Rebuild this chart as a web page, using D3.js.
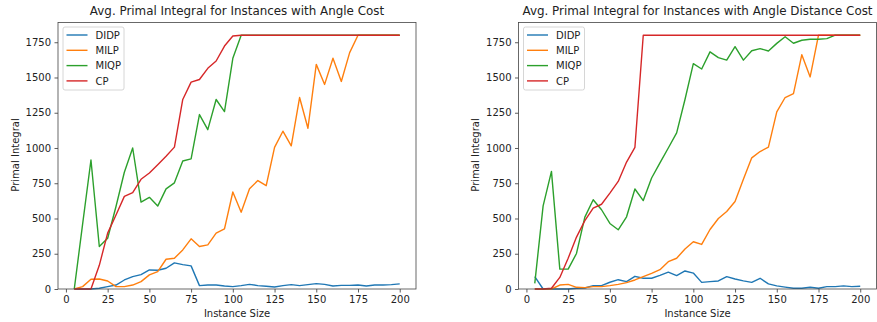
<!DOCTYPE html>
<html>
<head>
<meta charset="utf-8">
<script src="https://cdn.jsdelivr.net/npm/d3@7"></script>
<style>
  body { margin: 0; background: #fff; }
  svg { display: block; font-family: "DejaVu Sans", sans-serif; }
</style>
</head>
<body>
<div id="chart"></div>
<script>
// instance sizes 5..200
const sizes = [5,10,15,20,25,30,35,40,45,50,55,60,65,70,75,80,85,90,95,100,
  105,110,115,120,125,130,135,140,145,150,155,160,165,170,175,180,185,190,195,200];

const xTicks = [0,25,50,75,100,125,150,175,200];
const yTicks = [0,250,500,750,1000,1250,1500,1750];
const methods = ["DIDP", "MILP", "MIQP", "CP"];
const colors = ["#1f77b4", "#ff7f0e", "#2ca02c", "#d62728"];
const titles = ["Avg. Primal Integral for Instances with Angle Cost",
  "Avg. Primal Integral for Instances with Angle Distance Cost"];

// angle cost
const angleDIDP = [0,0,0,5,17,28,64,88,102,135,133,147,185,173,164,24,28,28,21,17,
  24,33,24,19,14,24,31,24,31,38,33,21,26,26,28,21,28,28,31,36];
const angleMILP = [0,17,69,71,57,17,17,28,52,100,123,211,218,277,356,301,313,396,427,688,
  545,711,769,733,1004,1119,1015,1358,1140,1593,1451,1637,1472,1676,1800,1800,1800,1800,1800,1800];
const angleMIQP = [0,460,915,301,360,585,828,1000,616,650,588,710,753,908,923,1237,1130,1344,1258,1636,
  1800,1800,1800,1800,1800,1800,1800,1800,1800,1800,1800,1800,1800,1800,1800,1800,1800,1800,1800,1800];
const angleCP = [0,0,0,168,396,525,657,683,778,823,882,941,1006,1344,1467,1486,1565,1617,1723,1794,
  1800,1800,1800,1800,1800,1800,1800,1800,1800,1800,1800,1800,1800,1800,1800,1800,1800,1800,1800,1800];

// angle distance cost
const distDIDP = [88,0,0,0,0,5,7,24,24,48,66,52,90,76,76,97,120,95,128,113,
  47,52,57,88,71,58,47,76,36,22,13,5,5,12,5,17,17,22,17,20];
const distMILP = [0,0,0,28,33,12,10,17,17,24,33,45,64,88,111,137,194,218,284,335,
  316,422,500,550,621,778,930,975,1006,1256,1358,1386,1662,1504,1800,1800,1800,1800,1800,1800];
const distMIQP = [40,590,834,141,141,252,510,633,562,465,420,512,709,627,787,894,1000,1107,1344,1598,
  1560,1682,1641,1623,1719,1623,1690,1705,1688,1742,1789,1743,1764,1771,1771,1776,1800,1800,1800,1800];
const distCP = [0,0,5,82,218,368,485,574,601,680,763,900,1005,1800,1800,1800,1800,1800,1800,1800,
  1800,1800,1800,1800,1800,1800,1800,1800,1800,1800,1800,1800,1800,1800,1800,1800,1800,1800,1800,1800];

const panels = [
  {title: titles[0], series: [angleDIDP, angleMILP, angleMIQP, angleCP], left: 58},
  {title: titles[1], series: [distDIDP, distMILP, distMIQP, distCP], left: 518.5}
];

const W = 877, H = 322;
const plotTop = 22.5, pw = 358, ph = 266.5;
const fs = 10;

const svg = d3.select("#chart").append("svg")
  .attr("width", W).attr("height", H);

const x = d3.scaleLinear().domain([-4.75, 209.75]).range([0, pw]);
const y = d3.scaleLinear().domain([0, 1890]).range([ph, 0]);

panels.forEach(function(p) {
  const g = svg.append("g").attr("transform", `translate(${p.left}, ${plotTop})`);

  const line = d3.line()
    .x((d, i) => x(sizes[i]))
    .y(d => y(d));

  p.series.forEach(function(s, k) {
    g.append("path")
      .datum(s)
      .attr("fill", "none")
      .attr("stroke", colors[k])
      .attr("stroke-width", 1.4)
      .attr("stroke-linejoin", "round")
      .attr("d", line);
  });

  const xAxis = d3.axisBottom(x).tickValues(xTicks).tickFormat(d3.format("d"))
    .tickSize(3.5).tickPadding(3.5);
  const yAxis = d3.axisLeft(y).tickValues(yTicks).tickFormat(d3.format("d"))
    .tickSize(3.5).tickPadding(3.5);

  const gx = g.append("g").attr("transform", `translate(0, ${ph})`).call(xAxis);
  const gy = g.append("g").call(yAxis);
  [gx, gy].forEach(function(a) {
    a.select(".domain").remove();
    a.selectAll("line").attr("stroke", "#333").attr("stroke-width", 0.8);
    a.selectAll("text").attr("fill", "#222").style("font-size", fs + "px")
      .style("font-family", "DejaVu Sans");
  });

  // frame
  g.append("rect")
    .attr("x", 0).attr("y", 0).attr("width", pw).attr("height", ph)
    .attr("fill", "none").attr("stroke", "#444").attr("stroke-width", 0.8);

  // title & labels
  g.append("text")
    .attr("x", pw / 2).attr("y", 15 - plotTop)
    .attr("text-anchor", "middle")
    .attr("fill", "#222")
    .style("font-size", "11.9px")
    .text(p.title);

  g.append("text")
    .attr("x", pw / 2).attr("y", 316.5 - plotTop)
    .attr("text-anchor", "middle")
    .attr("fill", "#222")
    .style("font-size", fs + "px")
    .text("Instance Size");

  g.append("text")
    .attr("transform", `translate(-39.5, ${155 - plotTop}) rotate(-90)`)
    .attr("text-anchor", "middle")
    .attr("fill", "#222")
    .style("font-size", fs + "px")
    .text("Primal Integral");

  // legend
  const lg = g.append("g").attr("transform", "translate(5, 4.5)");
  lg.append("rect")
    .attr("width", 61).attr("height", 63).attr("rx", 2)
    .attr("fill", "white").attr("fill-opacity", 0.8)
    .attr("stroke", "#ccc").attr("stroke-width", 0.8);
  methods.forEach(function(m, k) {
    const ly = 8 + k * 15.3;
    lg.append("line")
      .attr("x1", 3.5).attr("x2", 24.5).attr("y1", ly).attr("y2", ly)
      .attr("stroke", colors[k]).attr("stroke-width", 1.4);
    lg.append("text")
      .attr("x", 32.5).attr("y", ly).attr("dy", "0.36em")
      .attr("fill", "#222")
      .style("font-size", fs + "px")
      .text(m);
  });
});
</script>
</body>
</html>
